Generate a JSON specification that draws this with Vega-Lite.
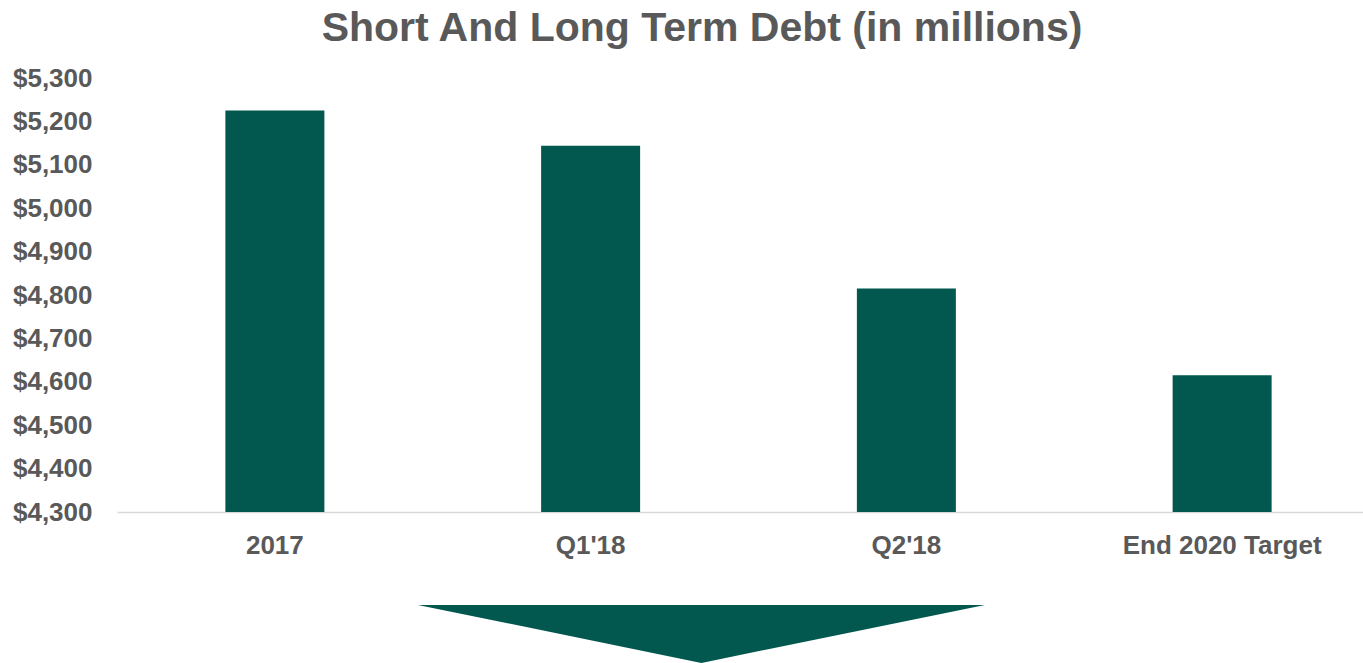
{
  "$schema": "https://vega.github.io/schema/vega-lite/v6.json",
  "autosize": {"type": "none"},
  "width": 1246,
  "height": 434,
  "padding": {"left": 117, "top": 78, "right": 0, "bottom": 151},
  "background": "#ffffff",
  "title": {
    "text": "Short And Long Term Debt (in millions)",
    "font": "Liberation Sans",
    "fontSize": 41,
    "fontWeight": "bold",
    "color": "#595959",
    "anchor": "middle",
    "frame": "group",
    "dx": -38,
    "baseline": "alphabetic",
    "offset": -17
  },
  "config": {
    "view": {"stroke": null},
    "font": "Liberation Sans"
  },
  "layer": [
    {
      "data": {
        "values": [
          {"period": "2017", "debt": 5225},
          {"period": "Q1'18", "debt": 5144},
          {"period": "Q2'18", "debt": 4815},
          {"period": "End 2020 Target", "debt": 4615}
        ]
      },
      "mark": {"type": "bar", "color": "#02574F", "width": {"band": 0.3135}},
      "encoding": {
        "x": {
          "field": "period",
          "type": "nominal",
          "sort": null,
          "scale": {"range": [0, 1263], "paddingInner": 0, "paddingOuter": 0},
          "axis": {
            "title": null,
            "labelAngle": 0,
            "labelFont": "Liberation Sans",
            "labelFontSize": 26,
            "labelFontWeight": "bold",
            "labelColor": "#595959",
            "labelPadding": 20,
            "labelLimit": 0,
            "ticks": false,
            "domainColor": "#D9D9D9",
            "domainWidth": 1.5,
            "grid": false
          }
        },
        "y": {
          "field": "debt",
          "type": "quantitative",
          "scale": {"domain": [4300, 5300], "zero": false, "nice": false},
          "axis": {
            "title": null,
            "values": [4300, 4400, 4500, 4600, 4700, 4800, 4900, 5000, 5100, 5200, 5300],
            "format": "$,.0f",
            "labelFont": "Liberation Sans",
            "labelFontSize": 26,
            "labelFontWeight": "bold",
            "labelColor": "#595959",
            "labelPadding": 25,
            "ticks": false,
            "domain": false,
            "grid": false
          }
        },
        "y2": {"datum": 4300}
      }
    },
    {
      "data": {"values": [{"marker": "decrease"}]},
      "mark": {
        "type": "point",
        "filled": true,
        "opacity": 1,
        "color": "#02574F",
        "shape": "M-1,0L1,0L0,0.2046Z",
        "size": 321489,
        "clip": false
      },
      "encoding": {
        "x": {"datum": 0.469, "type": "quantitative", "scale": {"domain": [0, 1], "nice": false, "zero": false}, "axis": null},
        "y": {"datum": 4086, "type": "quantitative"}
      }
    }
  ],
  "resolve": {"scale": {"x": "independent"}, "axis": {"x": "independent"}}
}
